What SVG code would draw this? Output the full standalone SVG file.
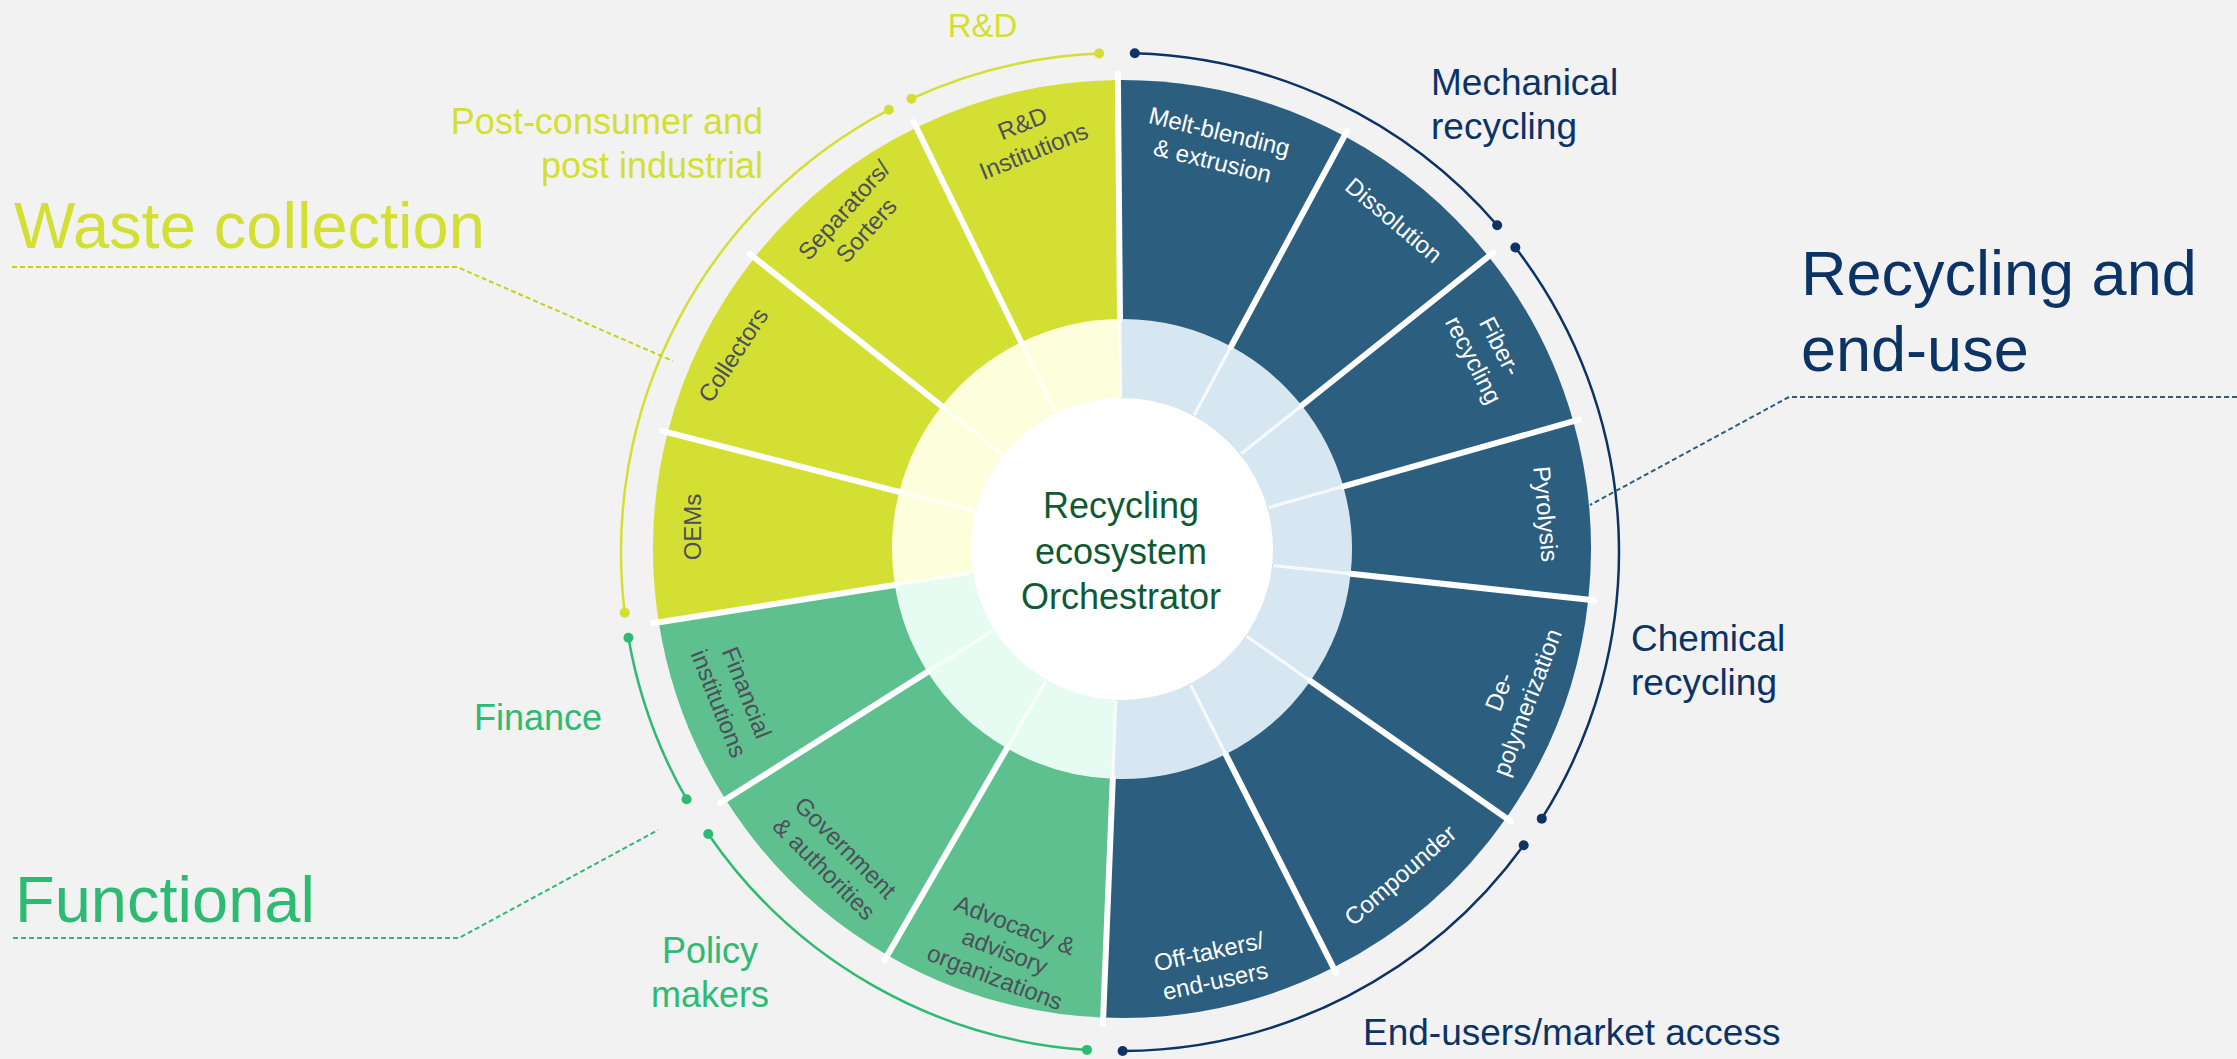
<svg xmlns="http://www.w3.org/2000/svg" width="2237" height="1059" viewBox="0 0 2237 1059">
  <style>
    text { font-family: "Liberation Sans", Arial, sans-serif; }
    .seg-y { fill: #d4df33; }
    .seg-g { fill: #5fc08f; }
    .seg-b { fill: #2c5f7f; }
    .ring-y { fill: #fdfedc; }
    .ring-g { fill: #e6fcf3; }
    .ring-b { fill: #d7e7f2; }
    .lab { font-size: 24px; text-anchor: middle; }
    .lab-w { fill: #ffffff; }
    .lab-d { fill: #4d4f5a; }
    .div-out { stroke: #ffffff; stroke-width: 6; stroke-linecap: round; fill: none; }
    .div-in { stroke: #ffffff; stroke-width: 3; stroke-opacity: 0.85; fill: none; }
    .arc { fill: none; stroke-width: 2.5; }
    .arc-y { stroke: #d4df33; }
    .arc-g { stroke: #2dba72; }
    .arc-n { stroke: #0b3366; }
    .dot-y { fill: #d4df33; }
    .dot-g { fill: #2dba72; }
    .dot-n { fill: #0b3366; }
    .lead { fill: none; stroke-width: 2; stroke-dasharray: 5 3; }
    .cat-y { fill: #d4df33; }
    .cat-g { fill: #2dba72; }
    .cat-n { fill: #0b3366; }
  </style>

  <rect width="2237" height="1059" fill="#f2f2f2"/>

  <!-- Wheel segments: outer slice, inner pale ring slice, label -->
  <g id="seg-melt-blending">
    <path class="seg-b" d="M1122 549 L1117.91 80.02 A469 469 0 0 1 1344.35 136.05 Z"/>
    <path class="ring-b" d="M1122 549 L1119.99 319.01 A230 230 0 0 1 1231.04 346.49 Z"/>
    <text class="lab lab-w" transform="translate(1216 146) rotate(13.5)"><tspan x="0" y="-6.5">Melt-blending</tspan><tspan x="0" y="23.5">&amp; extrusion</tspan></text>
  </g>
  <g id="seg-dissolution">
    <path class="seg-b" d="M1122 549 L1344.35 136.05 A469 469 0 0 1 1488.53 256.40 Z"/>
    <path class="ring-b" d="M1122 549 L1231.04 346.49 A230 230 0 0 1 1301.75 405.51 Z"/>
    <text class="lab lab-w" transform="translate(1394 220) rotate(40)"><tspan x="0" y="8.5">Dissolution</tspan></text>
  </g>
  <g id="seg-fiber-recycling">
    <path class="seg-b" d="M1122 549 L1488.53 256.40 A469 469 0 0 1 1573.28 421.30 Z"/>
    <path class="ring-b" d="M1122 549 L1301.75 405.51 A230 230 0 0 1 1343.31 486.38 Z"/>
    <text class="lab lab-w" transform="translate(1487 353) rotate(62.8)"><tspan x="0" y="-6.5">Fiber-</tspan><tspan x="0" y="23.5">recycling</tspan></text>
  </g>
  <g id="seg-pyrolysis">
    <path class="seg-b" d="M1122 549 L1573.28 421.30 A469 469 0 0 1 1588.26 599.65 Z"/>
    <path class="ring-b" d="M1122 549 L1343.31 486.38 A230 230 0 0 1 1350.65 573.84 Z"/>
    <text class="lab lab-w" transform="translate(1546 514) rotate(85)"><tspan x="0" y="8.5">Pyrolysis</tspan></text>
  </g>
  <g id="seg-depolymerization">
    <path class="seg-b" d="M1122 549 L1588.26 599.65 A469 469 0 0 1 1506.18 818.01 Z"/>
    <path class="ring-b" d="M1122 549 L1350.65 573.84 A230 230 0 0 1 1310.40 680.92 Z"/>
    <text class="lab lab-w" transform="translate(1513 697) rotate(-69.4)"><tspan x="0" y="-6.5">De-</tspan><tspan x="0" y="23.5">polymerization</tspan></text>
  </g>
  <g id="seg-compounder">
    <path class="seg-b" d="M1122 549 L1506.18 818.01 A469 469 0 0 1 1333.46 967.62 Z"/>
    <path class="ring-b" d="M1122 549 L1310.40 680.92 A230 230 0 0 1 1225.70 754.30 Z"/>
    <text class="lab lab-w" transform="translate(1400 875) rotate(-41)"><tspan x="0" y="8.5">Compounder</tspan></text>
  </g>
  <g id="seg-off-takers">
    <path class="seg-b" d="M1122 549 L1333.46 967.62 A469 469 0 0 1 1103.18 1017.62 Z"/>
    <path class="ring-b" d="M1122 549 L1225.70 754.30 A230 230 0 0 1 1112.77 778.81 Z"/>
    <text class="lab lab-w" transform="translate(1212 966) rotate(-12.2)"><tspan x="0" y="-6.5">Off-takers/</tspan><tspan x="0" y="23.5">end-users</tspan></text>
  </g>
  <g id="seg-advocacy">
    <path class="seg-g" d="M1122 549 L1103.18 1017.62 A469 469 0 0 1 887.5 955.17 Z"/>
    <path class="ring-g" d="M1122 549 L1112.77 778.81 A230 230 0 0 1 1007 748.19 Z"/>
    <text class="lab lab-d" transform="translate(1005 951) rotate(21)"><tspan x="0" y="-19.5">Advocacy &amp;</tspan><tspan x="0" y="8.5">advisory</tspan><tspan x="0" y="36.5">organizations</tspan></text>
  </g>
  <g id="seg-government">
    <path class="seg-g" d="M1122 549 L887.5 955.17 A469 469 0 0 1 725.57 799.61 Z"/>
    <path class="ring-g" d="M1122 549 L1007 748.19 A230 230 0 0 1 927.59 671.90 Z"/>
    <text class="lab lab-d" transform="translate(835 858) rotate(45)"><tspan x="0" y="-6.5">Government</tspan><tspan x="0" y="23.5">&amp; authorities</tspan></text>
  </g>
  <g id="seg-financial">
    <path class="seg-g" d="M1122 549 L725.57 799.61 A469 469 0 0 1 658.77 622.37 Z"/>
    <path class="ring-g" d="M1122 549 L927.59 671.90 A230 230 0 0 1 894.83 584.98 Z"/>
    <text class="lab lab-d" transform="translate(733 698) rotate(68.5)"><tspan x="0" y="-6.5">Financial</tspan><tspan x="0" y="23.5">institutions</tspan></text>
  </g>
  <g id="seg-oems">
    <path class="seg-y" d="M1122 549 L658.77 622.37 A469 469 0 0 1 667.74 432.36 Z"/>
    <path class="ring-y" d="M1122 549 L894.83 584.98 A230 230 0 0 1 899.23 491.80 Z"/>
    <text class="lab lab-d" transform="translate(692 527) rotate(-90)"><tspan x="0" y="8.5">OEMs</tspan></text>
  </g>
  <g id="seg-collectors">
    <path class="seg-y" d="M1122 549 L667.74 432.36 A469 469 0 0 1 754.45 257.68 Z"/>
    <path class="ring-y" d="M1122 549 L899.23 491.80 A230 230 0 0 1 941.75 406.14 Z"/>
    <text class="lab lab-d" transform="translate(733 355) rotate(-57)"><tspan x="0" y="8.5">Collectors</tspan></text>
  </g>
  <g id="seg-separators">
    <path class="seg-y" d="M1122 549 L754.45 257.68 A469 469 0 0 1 916.40 127.47 Z"/>
    <path class="ring-y" d="M1122 549 L941.75 406.14 A230 230 0 0 1 1021.17 342.28 Z"/>
    <text class="lab lab-d" transform="translate(855 220) rotate(-48)"><tspan x="0" y="-6.5">Separators/</tspan><tspan x="0" y="23.5">Sorters</tspan></text>
  </g>
  <g id="seg-rd-institutions">
    <path class="seg-y" d="M1122 549 L916.40 127.47 A469 469 0 0 1 1117.91 80.02 Z"/>
    <path class="ring-y" d="M1122 549 L1021.17 342.28 A230 230 0 0 1 1119.99 319.01 Z"/>
    <text class="lab lab-d" transform="translate(1028 137) rotate(-22)"><tspan x="0" y="-6.5">R&amp;D</tspan><tspan x="0" y="23.5">Institutions</tspan></text>
  </g>

  <!-- Segment dividers -->
  <g id="dividers">
    <path class="div-in" d="M1120.67 397.01 L1119.99 319.01 M1194.06 415.17 L1231.04 346.49 M1240.79 454.17 L1301.75 405.51 M1268.26 507.61 L1343.31 486.38 M1273.11 565.42 L1350.65 573.84 M1246.51 636.18 L1310.40 680.92 M1190.53 684.67 L1225.70 754.30 M1115.90 700.88 L1112.77 778.81 M1046 680.64 L1007 748.19 M993.52 630.22 L927.59 671.90 M971.87 572.78 L894.83 584.98 M974.78 511.20 L899.23 491.80 M1002.88 454.59 L941.75 406.14 M1055.37 412.38 L1021.17 342.28"/>
    <path class="div-out" d="M1119.99 319.01 L1117.85 74.02 M1231.04 346.49 L1347.19 130.77 M1301.75 405.51 L1493.22 252.66 M1343.31 486.38 L1579.05 419.67 M1350.65 573.84 L1594.22 600.30 M1310.40 680.92 L1511.10 821.45 M1225.70 754.30 L1336.17 972.98 M1112.77 778.81 L1102.94 1023.62 M1007 748.19 L884.5 960.36 M927.59 671.90 L720.50 802.82 M894.83 584.98 L652.85 623.30 M899.23 491.80 L661.92 430.87 M941.75 406.14 L749.75 253.95 M1021.17 342.28 L913.77 122.07"/>
  </g>

  <!-- Hub -->
  <g id="hub">
    <circle cx="1122" cy="549" r="151" fill="#ffffff"/>
    <text x="1121" y="518" font-size="36" text-anchor="middle" fill="#0d5a33">Recycling</text>
    <text x="1121" y="563.5" font-size="36" text-anchor="middle" fill="#0d5a33">ecosystem</text>
    <text x="1121" y="609" font-size="36" text-anchor="middle" fill="#0d5a33">Orchestrator</text>
  </g>

  <!-- Category labels -->
  <g id="cat-rd"><text class="cat-y" x="982.5" y="37" font-size="33" text-anchor="middle">R&amp;D</text></g>
  <g id="cat-post-consumer">
    <text class="cat-y" x="763" y="134" font-size="36" text-anchor="end">Post-consumer and</text>
    <text class="cat-y" x="763" y="178" font-size="36" text-anchor="end">post industrial</text>
  </g>
  <g id="cat-waste-collection"><text class="cat-y" x="14" y="248" font-size="65">Waste collection</text></g>
  <g id="cat-functional"><text class="cat-g" x="15" y="922" font-size="65">Functional</text></g>
  <g id="cat-finance"><text class="cat-g" x="474" y="730" font-size="36">Finance</text></g>
  <g id="cat-policy-makers">
    <text class="cat-g" x="710" y="963" font-size="36" text-anchor="middle">Policy</text>
    <text class="cat-g" x="710" y="1007" font-size="36" text-anchor="middle">makers</text>
  </g>
  <g id="cat-mechanical">
    <text class="cat-n" x="1431" y="95" font-size="37">Mechanical</text>
    <text class="cat-n" x="1431" y="139" font-size="37">recycling</text>
  </g>
  <g id="cat-recycling-end-use">
    <text class="cat-n" x="1801" y="295" font-size="63">Recycling and</text>
    <text class="cat-n" x="1801" y="371" font-size="63">end-use</text>
  </g>
  <g id="cat-chemical">
    <text class="cat-n" x="1631" y="651" font-size="37">Chemical</text>
    <text class="cat-n" x="1631" y="695" font-size="37">recycling</text>
  </g>
  <g id="cat-end-users"><text class="cat-n" x="1363" y="1045" font-size="37">End-users/market access</text></g>

  <!-- Bracket arcs and dashed leaders -->
  <g id="connectors">
    <path class="arc arc-y" d="M911.48 98.65 A499 499 0 0 1 1099.10 53.44"/>
    <circle class="dot-y" cx="911.48" cy="98.65" r="5"/><circle class="dot-y" cx="1099.10" cy="53.44" r="5"/>
    <path class="arc arc-y" d="M624.72 612.81 A499 499 0 0 1 888.81 109.79"/>
    <circle class="dot-y" cx="624.72" cy="612.81" r="5"/><circle class="dot-y" cx="888.81" cy="109.79" r="5"/>
    <path class="arc arc-g" d="M686.55 799.23 A499 499 0 0 1 628.43 637.79"/>
    <circle class="dot-g" cx="686.55" cy="799.23" r="5"/><circle class="dot-g" cx="628.43" cy="637.79" r="5"/>
    <path class="arc arc-g" d="M1086.93 1049.90 A499 499 0 0 1 708.27 833.92"/>
    <circle class="dot-g" cx="1086.93" cy="1049.90" r="5"/><circle class="dot-g" cx="708.27" cy="833.92" r="5"/>
    <path class="arc arc-n" d="M1523.70 845.31 A499 499 0 0 1 1122.61 1050.99"/>
    <circle class="dot-n" cx="1523.70" cy="845.31" r="5"/><circle class="dot-n" cx="1122.61" cy="1050.99" r="5"/>
    <path class="arc arc-n" d="M1515.35 247.54 A499 499 0 0 1 1541.78 818.64"/>
    <circle class="dot-n" cx="1515.35" cy="247.54" r="5"/><circle class="dot-n" cx="1541.78" cy="818.64" r="5"/>
    <path class="arc arc-n" d="M1134.80 53.22 A499 499 0 0 1 1497.17 225.28"/>
    <circle class="dot-n" cx="1134.80" cy="53.22" r="5"/><circle class="dot-n" cx="1497.17" cy="225.28" r="5"/>

    <path class="lead" stroke="#c5cf22" d="M12 267 L457 267 L673 361"/>
    <path class="lead" stroke="#2dba72" d="M13 938 L459 938 L658 830"/>
    <path class="lead" stroke="#2c5f7f" d="M2237 397 L1789 397 L1590 505"/>
  </g>
</svg>
